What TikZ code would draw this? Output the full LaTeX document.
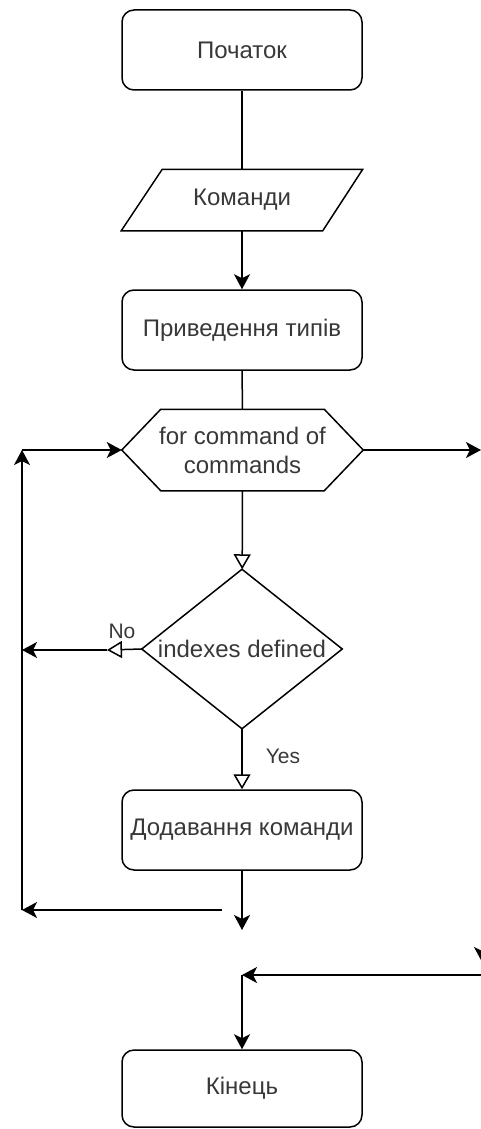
\documentclass[tikz,border=0pt]{standalone}
\usepackage{fontspec}
\setmainfont{Liberation Sans}
\usetikzlibrary{arrows.meta,calc}
\begin{document}
\begin{tikzpicture}[x=1pt,y=-1pt,
  line width=1.5pt,
  txt/.style={font=\fontsize{24}{29}\selectfont, text=black!78},
  lbl/.style={font=\fontsize{21}{25}\selectfont, text=black!78, inner sep=0pt},
  proc/.style={txt, draw, rounded corners=12pt, minimum width=240pt, minimum height=80pt, inner sep=0pt},
  frame/.style={txt, minimum width=240pt, minimum height=#1, inner sep=0pt},
  fa/.style={-{Stealth[length=15pt,width=16pt,inset=4pt]}},
  oa/.style={-{Triangle[open,length=15pt,width=17pt,fill=white]}}
]
\useasboundingbox (0,0) rectangle (481,1129);
\clip (0,0) rectangle (481,1129);

% blocks
\node[proc] (start) at (242,50) {Початок};

\node[frame=60pt] (cmd) at (242,200) {Команди};
\draw ($(cmd.north west)+(41,0)$) -- (cmd.north east)
  -- ($(cmd.south east)+(-40,0)$) -- (cmd.south west) -- cycle;

\node[proc] (cast) at (242,330) {Приведення типів};

\node[frame=80pt, align=center] (loop) at (242.5,450) {for command of\\commands};
\draw (loop.west) -- ($(loop.north west)+(39,0)$) -- ($(loop.north east)+(-39,0)$)
  -- (loop.east) -- ($(loop.south east)+(-39,0)$) -- ($(loop.south west)+(39,0)$) -- cycle;

\node[txt, minimum width=199pt, minimum height=158pt, inner sep=0pt] (cond) at (242,649) {indexes defined};
\draw (cond.north) -- (cond.east) -- (cond.south) -- (cond.west) -- cycle;

\node[proc] (add) at (242,830) {Додавання команди};
\node[proc, minimum height=77pt] (stop) at (242,1088.5) {Кінець};

% branch labels
\node[lbl] (no) at (122,631) {No};
\node[lbl] (yes) at (283,756) {Yes};

% free ends of connectors
\coordinate (exit) at (481,450);
\coordinate (nohead) at (107,650);
\coordinate (noleft) at (22,650);
\coordinate (addout) at (242,930);
\coordinate (backfrom) at (222,910);
\coordinate (backcorner) at (22,910);
\coordinate (looptop) at (22,450);
\coordinate (joinfrom) at (481,975);
\coordinate (join) at (242,975);
\coordinate (dropin) at (482,930);
\coordinate (droptip) at (482,962);

% connectors
\draw (start) -- (cmd);
\draw[fa] (cmd) -- (cast);
\draw (cast) -- (loop);
\draw[fa] (loop.east) -- (exit);
\draw[oa] (loop) -- (cond);
\draw[oa] (cond.west) -- (nohead);
\draw[fa] (nohead) -- (noleft);
\draw[oa] (cond) -- (add);
\draw[fa] (add) -- (addout);
\draw[fa] (backfrom) -- (backcorner);
\draw[fa] (backcorner) -- (looptop);
\draw[fa] (looptop) -- (loop.west);
\draw[fa] (joinfrom) -- (join);
\draw[fa] (join) -- (stop);
\draw[fa] (dropin) -- (droptip);
\end{tikzpicture}
\end{document}
